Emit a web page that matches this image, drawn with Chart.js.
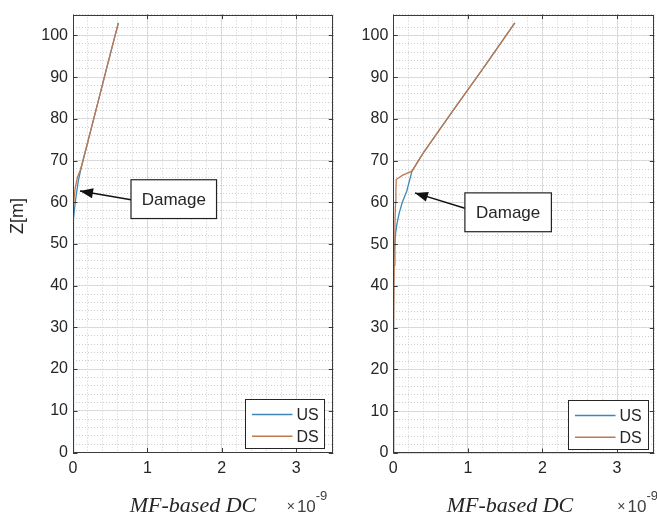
<!DOCTYPE html>
<html>
<head>
<meta charset="utf-8">
<script src="https://cdn.jsdelivr.net/npm/chart.js@4.4.0/dist/chart.umd.min.js"></script>
<style>
body { margin: 0; background: #fff; }
#wrap { position: relative; width: 657px; height: 515px; }
#leftChart { position: absolute; left: 0; top: 0; }
#rightChart { position: absolute; left: 336px; top: 0; }
</style>
</head>
<body>
<div id="wrap">
  <canvas id="leftChart" width="336" height="515"></canvas>
  <canvas id="rightChart" width="321" height="515"></canvas>
</div>
<script>
// series names
var seriesNames = ["US", "DS"];
// tick labels
var xTickLabels = [0, 1, 2, 3];
var yTickLabels = [0, 10, 20, 30, 40, 50, 60, 70, 80, 90, 100];

// left panel (values x 1e-9)
var leftUS_dc = [0, 0.002, 0.005, 0.012, 0.03, 0.05, 0.07, 0.1, 0.12, 0.3, 0.45, 0.61];
var leftUS_z  = [0, 30, 48, 56, 60, 62.5, 65, 67.5, 69, 81.5, 92, 103];
var leftDS_dc = [0, 0.002, 0.004, 0.008, 0.015, 0.03, 0.06, 0.1, 0.12, 0.3, 0.45, 0.61];
var leftDS_z  = [0, 30, 50, 58, 61, 63.5, 66, 67.8, 69, 81.5, 92, 103];

// right panel (values x 1e-9)
var rightUS_dc = [0, 0.002, 0.006, 0.015, 0.03, 0.05, 0.08, 0.12, 0.18, 0.25, 0.4, 0.8, 1.2, 1.63];
var rightUS_z  = [0, 30, 44, 49, 52.5, 55, 57.5, 60, 62.7, 67.5, 71.8, 82, 92, 103];
var rightDS_dc = [0, 0.004, 0.012, 0.022, 0.03, 0.035, 0.04, 0.12, 0.25, 0.4, 0.8, 1.2, 1.63];
var rightDS_z  = [0, 30, 45, 55, 60, 63, 65.5, 66.5, 67.5, 71.8, 82, 92, 103];

var usColor = '#3f88b5';
var dsColor = '#c0784c';
var textColor = '#262626';

function toPoints(xs, ys) {
  return xs.map(function (v, i) { return { x: v, y: ys[i] }; });
}

function lineSet(label, color, pts, order) {
  return {
    label: label, data: pts, borderColor: color, backgroundColor: color,
    borderWidth: 1.3, pointRadius: 0, showLine: true, tension: 0, order: order
  };
}

// MATLAB-like decoration: box, inner ticks, legend, labels, annotation
var decor = {
  id: 'decor',
  afterDraw: function (chart, args, o) {
    var ctx = chart.ctx, a = chart.chartArea;
    var xs = chart.scales.x, ys = chart.scales.y;
    ctx.save();

    // box
    ctx.strokeStyle = '#3a3a3a';
    ctx.lineWidth = 1;
    ctx.strokeRect(Math.round(a.left) + 0.5, Math.round(a.top) + 0.5,
      Math.round(a.width) - 1, Math.round(a.height) - 1);

    // inner tick marks
    ctx.beginPath();
    xTickLabels.forEach(function (v) {
      var px = Math.round(xs.getPixelForValue(v)) + 0.5;
      ctx.moveTo(px, a.bottom); ctx.lineTo(px, a.bottom - 4.5);
      ctx.moveTo(px, a.top); ctx.lineTo(px, a.top + 4.5);
    });
    yTickLabels.forEach(function (v) {
      var py = Math.round(ys.getPixelForValue(v)) + 0.5;
      ctx.moveTo(a.left, py); ctx.lineTo(a.left + 4.5, py);
      ctx.moveTo(a.right, py); ctx.lineTo(a.right - 4.5, py);
    });
    ctx.stroke();

    // legend box (lower right, inside axes)
    var lw = o.legendW, lh = 49;
    var lx = Math.round(a.right - o.legendGap - lw) + 0.5;
    var ly = Math.round(a.bottom - 4.5 - lh) + 0.5;
    ctx.fillStyle = '#fff';
    ctx.fillRect(lx, ly, lw, lh);
    ctx.strokeStyle = '#262626';
    ctx.strokeRect(lx, ly, lw, lh);
    ctx.font = '16px "Liberation Sans", Arial, sans-serif';
    ctx.textBaseline = 'middle';
    ctx.textAlign = 'left';
    chart.data.datasets.forEach(function (ds, i) {
      var ry = ly + 15 + i * 21.7;
      ctx.strokeStyle = ds.borderColor;
      ctx.lineWidth = 1.5;
      ctx.beginPath();
      ctx.moveTo(lx + 6.5, ry); ctx.lineTo(lx + 47, ry);
      ctx.stroke();
      ctx.fillStyle = textColor;
      ctx.fillText(ds.label, lx + 51, ry + 1);
    });

    // annotation
    var an = o.note;
    var bx0 = xs.getPixelForValue(an.box[0]), bx1 = xs.getPixelForValue(an.box[1]);
    var by0 = ys.getPixelForValue(an.box[2]), by1 = ys.getPixelForValue(an.box[3]);
    var tx = xs.getPixelForValue(an.tip[0]), ty = ys.getPixelForValue(an.tip[1]);
    var sy = ys.getPixelForValue(an.tail);
    ctx.strokeStyle = '#111';
    ctx.lineWidth = 1.5;
    ctx.beginPath();
    ctx.moveTo(bx0, sy);
    ctx.lineTo(tx, ty);
    ctx.stroke();
    var ang = Math.atan2(ty - sy, tx - bx0);
    ctx.fillStyle = '#111';
    ctx.beginPath();
    ctx.moveTo(tx, ty);
    ctx.lineTo(tx - 13 * Math.cos(ang) + 5 * Math.sin(ang), ty - 13 * Math.sin(ang) - 5 * Math.cos(ang));
    ctx.lineTo(tx - 13 * Math.cos(ang) - 5 * Math.sin(ang), ty - 13 * Math.sin(ang) + 5 * Math.cos(ang));
    ctx.closePath();
    ctx.fill();
    ctx.fillStyle = '#fff';
    ctx.fillRect(bx0, by0, bx1 - bx0, by1 - by0);
    ctx.strokeStyle = '#222';
    ctx.lineWidth = 1.2;
    ctx.strokeRect(bx0, by0, bx1 - bx0, by1 - by0);
    ctx.fillStyle = textColor;
    ctx.font = '17px "Liberation Sans", Arial, sans-serif';
    ctx.textAlign = 'center';
    ctx.textBaseline = 'middle';
    ctx.fillText(an.text, (bx0 + bx1) / 2, (by0 + by1) / 2 + 1);

    // x label
    ctx.font = 'italic 22px "Liberation Serif", "Times New Roman", serif';
    ctx.textAlign = 'center';
    ctx.textBaseline = 'alphabetic';
    ctx.fillText(o.xTitle, o.xTitleX, 512);

    // exponent
    var ex = a.right - o.expOffset;
    ctx.textAlign = 'left';
    ctx.font = '14px "Liberation Sans", Arial, sans-serif';
    ctx.fillStyle = '#404040';
    ctx.fillText('\u00d7', ex, 511);
    ex += ctx.measureText('\u00d7').width + 2;
    ctx.font = '17px "Liberation Sans", Arial, sans-serif';
    ctx.fillText('10', ex, 512);
    ex += ctx.measureText('10').width;
    ctx.font = '13px "Liberation Sans", Arial, sans-serif';
    ctx.fillText('-9', ex, 500);

    // y label
    if (o.yTitle) {
      ctx.fillStyle = textColor;
      ctx.font = '18px "Liberation Sans", Arial, sans-serif';
      ctx.translate(18, 216);
      ctx.rotate(-Math.PI / 2);
      ctx.textAlign = 'center';
      ctx.textBaseline = 'middle';
      ctx.fillText(o.yTitle, 0, 0);
    }
    ctx.restore();
  }
};

function makeChart(id, usPts, dsPts, cfg) {
  return new Chart(document.getElementById(id).getContext('2d'), {
    type: 'scatter',
    data: {
      datasets: [
        lineSet(seriesNames[0], usColor, usPts, 1),
        lineSet(seriesNames[1], dsColor, dsPts, 0)
      ]
    },
    options: {
      responsive: false,
      animation: false,
      layout: { padding: { top: cfg.top, right: cfg.right, left: 0, bottom: 0 } },
      plugins: {
        legend: { display: false },
        tooltip: { enabled: false },
        decor: cfg.decor
      },
      scales: {
        x: {
          type: 'linear', position: 'bottom', min: 0, max: 3.5,
          grid: { color: '#e0e0e0', drawTicks: false },
          border: { display: false },
          ticks: {
            stepSize: 1, includeBounds: false, autoSkip: false, padding: 6, color: textColor,
            font: { family: '"Liberation Sans", Arial, sans-serif', size: 16 },
            callback: function (v) { return xTickLabels.indexOf(v) >= 0 ? v : ''; }
          },
          afterFit: function (s) { s.height = cfg.xHeight; }
        },
        xMinor: {
          type: 'linear', position: 'bottom', min: 0, max: 3.5,
          grid: { color: '#cdcdcd', drawTicks: false },
          border: { display: false, dash: [1, 2] },
          ticks: { stepSize: 0.2, display: false },
          afterFit: function (s) { s.height = 0; }
        },
        y: {
          type: 'linear', position: 'left', min: 0, max: 105,
          grid: { color: '#e0e0e0', drawTicks: false },
          border: { display: false },
          ticks: {
            stepSize: 10, includeBounds: false, autoSkip: false, padding: 5, color: textColor,
            font: { family: '"Liberation Sans", Arial, sans-serif', size: 16 },
            callback: function (v) { return yTickLabels.indexOf(v) >= 0 ? v : ''; }
          },
          afterFit: function (s) { s.width = cfg.yWidth; }
        },
        yMinor: {
          type: 'linear', position: 'left', min: 0, max: 105,
          grid: { color: '#cdcdcd', drawTicks: false },
          border: { display: false, dash: [1, 2] },
          ticks: { stepSize: 2, display: false },
          afterFit: function (s) { s.width = 0; }
        }
      }
    },
    plugins: [decor]
  });
}

makeChart('leftChart', toPoints(leftUS_dc, leftUS_z), toPoints(leftDS_dc, leftDS_z), {
  top: 8, right: 2.7, yWidth: 73, xHeight: 62.5,
  decor: {
    legendW: 79, legendGap: 9, xTitle: 'MF-based DC', xTitleX: 193, expOffset: 46.6, yTitle: 'Z[m]',
    note: { text: 'Damage', box: [0.78, 1.93, 65.4, 56.1], tip: [0.094, 62.7], tail: 60.6 }
  }
});

makeChart('rightChart', toPoints(rightUS_dc, rightUS_z), toPoints(rightDS_dc, rightDS_z), {
  top: 10, right: 2.7, yWidth: 57.3, xHeight: 62,
  decor: {
    legendW: 80, legendGap: 6.6, xTitle: 'MF-based DC', xTitleX: 510 - 336, expOffset: 37, yTitle: '',
    note: { text: 'Damage', box: [0.96, 2.12, 62.3, 53.0], tip: [0.29, 62.3], tail: 58.6 }
  }
});
</script>
</body>
</html>
